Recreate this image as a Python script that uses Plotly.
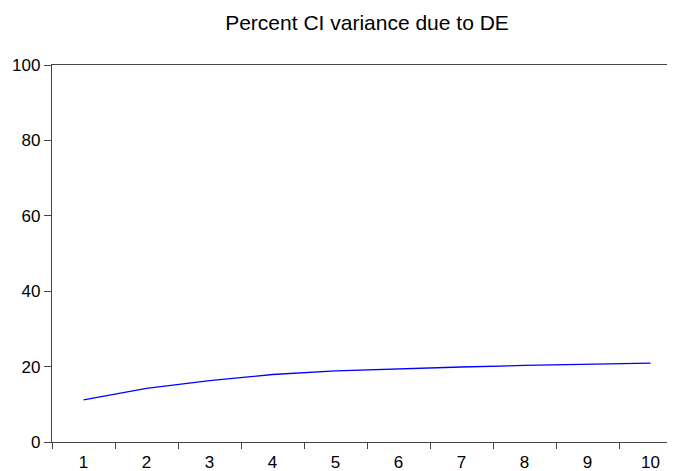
import plotly.graph_objects as go

periods = [1, 2, 3, 4, 5, 6, 7, 8, 9, 10]
values = [11.15, 14.2, 16.3, 17.9, 18.85, 19.4, 19.9, 20.3, 20.6, 20.9]
y_ticks = [0, 20, 40, 60, 80, 100]
boundary_ticks = [0.5, 1.5, 2.5, 3.5, 4.5, 5.5, 6.5, 7.5, 8.5, 9.5]

axis_color = "#444444"
font_family = "Liberation Sans, Arial, sans-serif"

# page body has an 8px offset; figure sized to fill the rest of the window
W, H = 667, 463
L, T, B = 44, 57, 29
step = 63.0

fig = go.Figure()
fig.add_trace(go.Scatter(x=periods, y=values, mode="lines",
                         line=dict(color="#0000ff", width=1.3),
                         showlegend=False, hoverinfo="skip"))

fig.update_layout(
    width=W, height=H,
    margin=dict(l=L, r=0, t=T, b=B),
    paper_bgcolor="white", plot_bgcolor="white",
    font=dict(family=font_family, color="black", size=17),
    title=dict(text="Percent CI variance due to DE",
               x=(L + (L + 10 * step)) / 2 / W, xref="container",
               xanchor="center", y=1 - 15 / H, yref="container", yanchor="middle",
               font=dict(size=21, family=font_family, color="black")),
)
fig.update_xaxes(
    range=[0.5, 0.5 + (W - L) / step],
    tickvals=periods, ticktext=[str(p) for p in periods],
    ticks="outside", ticklen=4, tickcolor="rgba(0,0,0,0)",
    minor=dict(tickvals=boundary_ticks, ticks="outside", ticklen=6,
               tickcolor=axis_color, tickwidth=1),
    showline=True, linecolor=axis_color, linewidth=1.3, mirror=True,
    showgrid=False, zeroline=False,
    tickfont=dict(size=17, family=font_family),
)
fig.update_yaxes(
    range=[0, 100], tickvals=y_ticks,
    ticks="outside", ticklen=7, tickcolor=axis_color, tickwidth=1,
    showline=True, linecolor=axis_color, linewidth=1.3,
    showgrid=False, zeroline=False,
    tickfont=dict(size=17, family=font_family),
)

fig.write_html("out.html")
